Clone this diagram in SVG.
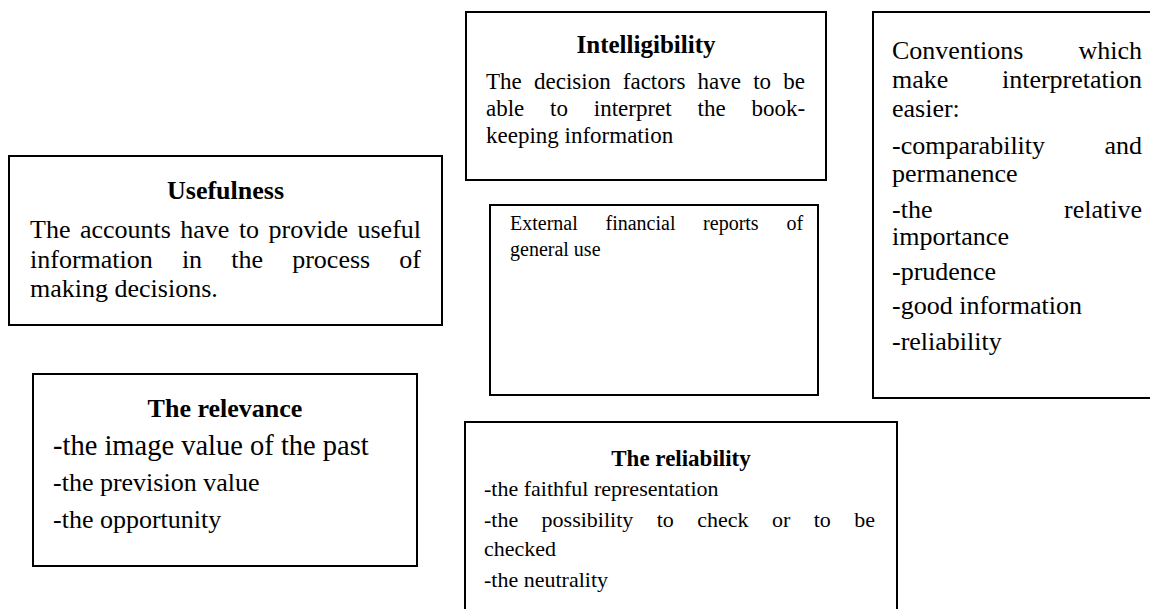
<svg xmlns="http://www.w3.org/2000/svg" width="1150" height="609" viewBox="0 0 1150 609" font-family="'Liberation Serif', 'Times New Roman', Times, 'DejaVu Serif', serif">
<style>
  .box { fill: #fff; stroke: #000; stroke-width: 2; }
  .txt { font-family: 'Liberation Serif', 'Times New Roman', Times, serif; fill: #000; }
  .t { font-weight: bold; text-anchor: middle; }
  .end { text-anchor: end; }
</style>
<rect width="1150" height="609" fill="#fff"/>
<g id="connectors"/>

<g id="usefulness" class="txt">
  <rect class="box" x="9" y="156" width="433" height="169"/>
  <text class="t" x="225.5" y="199" font-size="26">Usefulness</text>
  <text font-size="26" y="238"><tspan x="30">The</tspan><tspan x="79.9">accounts</tspan><tspan x="180.3">have</tspan><tspan x="238.9">to</tspan><tspan x="268.6">provide</tspan><tspan x="357.5">useful</tspan></text>
  <text font-size="26" y="268"><tspan x="30">information</tspan><tspan x="181.9">in</tspan><tspan x="231.3">the</tspan><tspan x="292.2">process</tspan><tspan x="399.3">of</tspan></text>
  <text font-size="26" x="30" y="297">making decisions.</text>
</g>

<g id="intelligibility" class="txt">
  <rect class="box" x="466" y="12" width="360" height="168"/>
  <text class="t" x="646" y="53" font-size="25">Intelligibility</text>
  <text font-size="23" y="89"><tspan x="486">The</tspan><tspan x="534">decision</tspan><tspan x="622.8">factors</tspan><tspan x="697.6">have</tspan><tspan x="753.2">to</tspan><tspan x="783.3">be</tspan></text>
  <text font-size="23" y="116"><tspan x="486">able</tspan><tspan x="550.1">to</tspan><tspan x="593.8">interpret</tspan><tspan x="697.5">the</tspan><tspan x="751.4">book-</tspan></text>
  <text font-size="23" x="486" y="143">keeping information</text>
</g>

<g id="conventions" class="txt">
  <rect class="box" x="873" y="12" width="290" height="386"/>
  <text font-size="26" y="59"><tspan x="892">Conventions</tspan><tspan class="end" x="1142">which</tspan></text>
  <text font-size="26" y="88"><tspan x="892">make</tspan><tspan class="end" x="1142">interpretation</tspan></text>
  <text font-size="26" x="892" y="117">easier:</text>
  <text font-size="26" y="154"><tspan x="892">-comparability</tspan><tspan class="end" x="1142">and</tspan></text>
  <text font-size="26" x="892" y="182">permanence</text>
  <text font-size="26" y="218"><tspan x="892">-the</tspan><tspan class="end" x="1142">relative</tspan></text>
  <text font-size="26" x="892" y="245">importance</text>
  <text font-size="26" x="892" y="280">-prudence</text>
  <text font-size="26" x="892" y="314">-good information</text>
  <text font-size="26" x="892" y="350">-reliability</text>
</g>

<g id="external" class="txt">
  <rect class="box" x="490" y="205" width="328" height="190"/>
  <text font-size="20" y="230"><tspan x="510">External</tspan><tspan x="605.5">financial</tspan><tspan x="703.1">reports</tspan><tspan x="786.4">of</tspan></text>
  <text font-size="20" x="510" y="256">general use</text>
</g>

<g id="relevance" class="txt">
  <rect class="box" x="33" y="374" width="384" height="192"/>
  <text class="t" x="225" y="417" font-size="26">The relevance</text>
  <text font-size="28.5" x="53" y="455">-the image value of the past</text>
  <text font-size="26" x="53" y="491">-the prevision value</text>
  <text font-size="26" x="53" y="528">-the opportunity</text>
</g>

<g id="reliability" class="txt">
  <rect class="box" x="465" y="422" width="432" height="200"/>
  <text class="t" x="681" y="466" font-size="23">The reliability</text>
  <text font-size="22" x="484" y="496">-the faithful representation</text>
  <text font-size="22" y="527"><tspan x="484">-the</tspan><tspan x="541.6">possibility</tspan><tspan x="656.7">to</tspan><tspan x="697.3">check</tspan><tspan x="772">or</tspan><tspan x="813.7">to</tspan><tspan x="854.2">be</tspan></text>
  <text font-size="22" x="484" y="556">checked</text>
  <text font-size="22" x="484" y="587">-the neutrality</text>
</g>
</svg>
